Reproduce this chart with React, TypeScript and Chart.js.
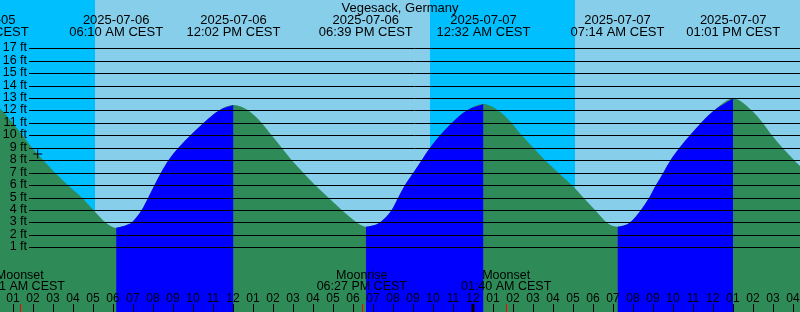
import React, { useEffect, useRef } from "react";
import { Chart, registerables } from "chart.js";

Chart.register(...registerables);

// All times are hours since 2025-07-06 00:00 CEST
const locationTitle = "Vegesack, Germany";

const tideHours = [
  -0.53, 0.36, 0.99, 1.485, 1.96, 2.525, 3.11, 3.75, 4.445, 5.025, 5.635, 5.91, 6.167,
  6.695, 6.945, 7.445, 7.775, 8.085, 8.41, 8.785, 9.285, 9.885, 10.535, 11.31, 12.033,
  12.775, 13.445, 13.945, 14.445, 14.945, 15.525, 16.11, 16.775, 17.445, 18.195, 18.45, 18.65,
  19.0, 19.36, 19.945, 20.275, 20.61, 21.025, 21.445, 21.86, 22.36, 22.945, 23.695, 24.533,
  25.275, 25.945, 26.445, 27.025, 27.61, 28.275, 28.945, 29.525, 30.11, 30.695, 30.98, 31.233,
  31.55, 31.86, 32.41, 32.825, 33.16, 33.525, 33.885, 34.335, 34.86, 35.41, 36.06, 37.017,
  37.95, 38.5, 38.96, 39.48, 40.07, 40.7,
];
const tideFeet = [
  12.55, 12.13, 11.0, 10.0, 9.0, 8.0, 7.0, 6.0, 5.0, 4.0, 3.0, 2.7, 2.57,
  2.8, 3.0, 4.0, 5.0, 6.0, 7.0, 8.0, 9.0, 10.0, 11.0, 12.0, 12.43,
  12.0, 11.0, 10.0, 9.0, 8.0, 7.0, 6.0, 5.0, 4.0, 3.0, 2.75, 2.65,
  2.76, 3.0, 4.0, 5.0, 6.0, 7.0, 8.0, 9.0, 10.0, 11.0, 12.0, 12.52,
  12.0, 11.0, 10.0, 9.0, 8.0, 7.0, 6.0, 5.0, 4.0, 3.0, 2.74, 2.65,
  2.75, 3.0, 4.0, 5.0, 6.0, 7.0, 8.0, 9.0, 10.0, 11.0, 12.0, 12.97,
  12.0, 11.0, 10.0, 9.0, 8.0, 7.0,
];

const extremeHours = [-0.53, 6.167, 12.033, 18.65, 24.533, 31.233, 37.017];
const extremeDates = ["2025-07-05", "2025-07-06", "2025-07-06", "2025-07-06", "2025-07-07", "2025-07-07", "2025-07-07"];
const extremeTimes = ["11:28 PM CEST", "06:10 AM CEST", "12:02 PM CEST", "06:39 PM CEST", "12:32 AM CEST", "07:14 AM CEST", "01:01 PM CEST"];

const nightStarts = [-2, 21.86];
const nightEnds = [5.11, 29.11];

const moonHours = [1.35, 18.45, 25.667];
const moonEvents = ["Moonset", "Moonrise", "Moonset"];
const moonTimes = ["01:21 AM CEST", "06:27 PM CEST", "01:40 AM CEST"];

const nowHour = 2.245;
const nowFeet = 8.5;

const footTicks = [1, 2, 3, 4, 5, 6, 7, 8, 9, 10, 11, 12, 13, 14, 15, 16, 17];
const hourTicks = Array.from({ length: 42 }, (_, i) => i);

const X_MIN = 0.36;
const X_MAX = 40.36;
const Y_MIN = -4.2;
const Y_MAX = 20.88;

const NIGHT = "#00BFFF";
const DAY = "#87CEEB";
const FALLING = "#2E8B57";
const RISING = "#0000FF";
const FONT = "Liberation Sans, Arial, sans-serif";

function buildDatasets() {
  const all = tideHours.map((h, i) => ({ x: h, y: tideFeet[i] }));
  const sets: any[] = [
    {
      data: all,
      fill: "start",
      backgroundColor: FALLING,
      borderColor: "rgba(0,0,0,0)",
      borderWidth: 1,
      pointRadius: 0,
      cubicInterpolationMode: "monotone",
      order: 3,
    },
  ];
  const idx = extremeHours.map((h) => tideHours.indexOf(h));
  idx.push(tideHours.length - 1);
  for (let s = 0; s < idx.length - 1; s++) {
    const a = idx[s];
    const b = idx[s + 1];
    if (!(tideFeet[b] > tideFeet[a])) continue;
    const pts: { x: number; y: number }[] = [];
    for (let i = a; i <= b; i++) pts.push({ x: tideHours[i], y: tideFeet[i] });
    sets.push({
      data: pts,
      fill: "start",
      backgroundColor: RISING,
      borderColor: "rgba(0,0,0,0)",
      borderWidth: 1,
      pointRadius: 0,
      cubicInterpolationMode: "monotone",
      order: 2,
    });
  }
  return sets;
}

const hourLabel = (h: number) => {
  const v = ((((h % 12) + 12) % 12) || 12);
  return String(v).padStart(2, "0");
};

const overlayPlugin = {
  id: "tideOverlay",
  beforeDraw(chart: any) {
    const { ctx, scales } = chart;
    const xs = scales.x;
    ctx.save();
    ctx.fillStyle = DAY;
    ctx.fillRect(0, 0, chart.width, chart.height);
    ctx.fillStyle = NIGHT;
    for (let i = 0; i < nightStarts.length; i++) {
      const x0 = Math.round(xs.getPixelForValue(nightStarts[i]));
      const x1 = Math.round(xs.getPixelForValue(nightEnds[i]));
      ctx.fillRect(x0, 0, x1 - x0, chart.height);
    }
    ctx.restore();
  },
  afterDatasetsDraw(chart: any) {
    const { ctx, scales } = chart;
    const xs = scales.x;
    const ys = scales.y;
    const W = chart.width;
    const H = chart.height;
    ctx.save();
    ctx.strokeStyle = "#000";
    ctx.lineWidth = 1;
    ctx.fillStyle = "#000";
    ctx.font = `12.5px ${FONT}`;
    ctx.textAlign = "right";
    ctx.textBaseline = "middle";
    footTicks.forEach((f) => {
      const y = Math.round(ys.getPixelForValue(f)) + 0.5;
      ctx.beginPath();
      ctx.moveTo(29, y);
      ctx.lineTo(W, y);
      ctx.stroke();
      ctx.fillText(`${f} ft`, 27, y - 0.5);
    });

    ctx.textAlign = "center";
    ctx.textBaseline = "alphabetic";
    ctx.font = `13px ${FONT}`;
    ctx.fillText(locationTitle, W / 2, 12);
    extremeHours.forEach((h, i) => {
      const x = xs.getPixelForValue(h);
      ctx.fillText(extremeDates[i], x, 24);
      ctx.fillText(extremeTimes[i], x, 36);
    });

    ctx.font = `12.5px ${FONT}`;
    moonHours.forEach((h, i) => {
      const x = xs.getPixelForValue(h);
      ctx.fillText(moonEvents[i], x, 278.5);
      ctx.fillText(moonTimes[i], x, 289.5);
    });

    ctx.font = `12px ${FONT}`;
    hourTicks.forEach((h) => {
      const x = Math.round(xs.getPixelForValue(h));
      ctx.fillStyle = "#000";
      ctx.fillText(hourLabel(h), x, 302);
      ctx.beginPath();
      const mid = h % 24 === 0;
      ctx.lineWidth = mid ? 3 : 1;
      ctx.strokeStyle = "#000";
      ctx.moveTo(mid ? x : x + 0.5, 304);
      ctx.lineTo(mid ? x : x + 0.5, H);
      ctx.stroke();
    });
    ctx.strokeStyle = "#FF0000";
    ctx.lineWidth = 1;
    moonHours.forEach((h) => {
      const x = Math.round(xs.getPixelForValue(h)) + 0.5;
      ctx.beginPath();
      ctx.moveTo(x, 304);
      ctx.lineTo(x, H);
      ctx.stroke();
    });
    ctx.restore();
  },
};

export default function App() {
  const ref = useRef<HTMLCanvasElement | null>(null);
  useEffect(() => {
    if (!ref.current) return;
    const datasets = buildDatasets();
    datasets.push({
      data: [{ x: nowHour, y: nowFeet }],
      showLine: false,
      fill: false,
      pointStyle: "cross",
      pointRadius: 4.5,
      pointBorderColor: "#000",
      pointBorderWidth: 1,
      borderColor: "#000",
      backgroundColor: "#000",
      order: 1,
    } as any);
    const chart = new Chart(ref.current, {
      type: "line",
      data: { datasets },
      options: {
        animation: false,
        responsive: false,
        devicePixelRatio: 1,
        layout: { padding: 0, autoPadding: false },
        plugins: { legend: { display: false }, tooltip: { enabled: false }, title: { display: false } },
        events: [],
        scales: {
          x: { type: "linear", min: X_MIN, max: X_MAX, display: false },
          y: { type: "linear", min: Y_MIN, max: Y_MAX, display: false },
        },
      },
      plugins: [overlayPlugin],
    } as any);
    return () => chart.destroy();
  }, []);
  return (
    <div style={{ position: "fixed", left: 0, top: 0, width: 800, height: 312, overflow: "hidden" }}>
      <canvas ref={ref} width={800} height={312} style={{ display: "block", width: 800, height: 312 }} />
    </div>
  );
}
